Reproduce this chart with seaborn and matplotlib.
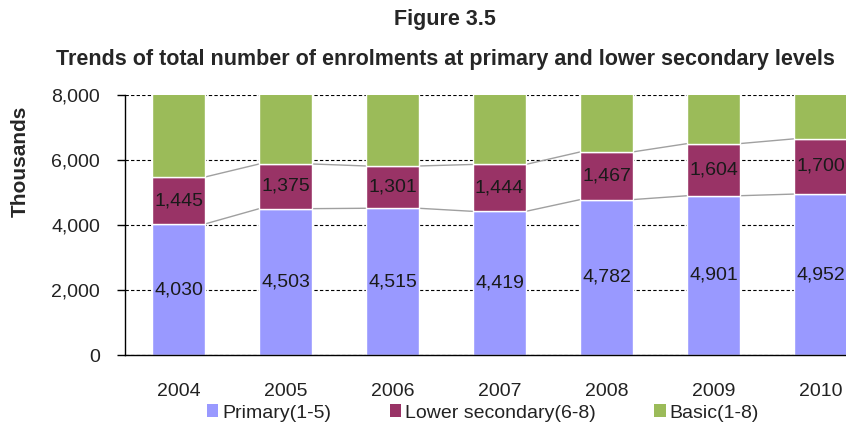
import numpy as np
import matplotlib
matplotlib.use("Agg")
import matplotlib.pyplot as plt
import seaborn as sns
from matplotlib.patches import Patch
from matplotlib.ticker import StrMethodFormatter

# -----------------------------
# Data (thousands)
# -----------------------------
years = ["2004", "2005", "2006", "2007", "2008", "2009", "2010"]
primary = [4030, 4503, 4515, 4419, 4782, 4901, 4952]
lower_secondary = [1445, 1375, 1301, 1444, 1467, 1604, 1700]
basic = [5475, 5878, 5816, 5863, 6249, 6505, 6652]

labels = ["Primary(1-5)", "Lower secondary(6-8)", "Basic(1-8)"]
colors = ["#9999FF", "#993366", "#9BBB59"]

# style
sns.set_style("white")
plt.rcParams["font.family"] = ["Liberation Sans", "DejaVu Sans"]

fig = plt.figure(figsize=(8.46, 4.28), dpi=100)
# the plot area runs past the right edge, as in the original
ax = fig.add_axes([125 / 846, 73 / 428, 749 / 846, 260 / 428])

w = 0.49
p = np.array(primary)
l = np.array(lower_secondary)
b = np.array(basic)

sns.barplot(x=years, y=primary, color=colors[0], width=w, errorbar=None,
            saturation=1, ax=ax, zorder=2)
sns.barplot(x=years, y=lower_secondary, bottom=p, color=colors[1], width=w,
            errorbar=None, saturation=1, ax=ax, zorder=2)
sns.barplot(x=years, y=basic, bottom=p + l, color=colors[2], width=w,
            errorbar=None, saturation=1, ax=ax, zorder=2)

# data labels
for cont in ax.containers[:2]:
    ax.bar_label(cont, labels=[f"{v.get_height():,.0f}" for v in cont],
                 label_type="center", fontsize=14, color="#1a1a1a")

# series lines between bars
for top in (p, p + l):
    for i in range(len(years) - 1):
        ax.plot([i + w / 2, i + 1 - w / 2], [top[i], top[i + 1]],
                color="#a0a0a0", lw=1, zorder=1)

ax.set_xlim(-0.5, 6.5)
ax.set_ylim(0, 8000)
ax.set_yticks([0, 2000, 4000, 6000, 8000])
ax.yaxis.set_major_formatter(StrMethodFormatter("{x:,.0f}"))
ax.yaxis.grid(True, linestyle=(0, (3, 2)), color="black", lw=0.8)
ax.set_axisbelow(True)

ax.set_xticks(range(len(years)), years)
ax.set_xticks(np.arange(-0.5, 7, 1), minor=True)
ax.tick_params(axis="x", which="major", length=0, pad=20, labelsize=14,
               labelcolor="#222222")
ax.tick_params(axis="x", which="minor", length=6, width=1, direction="out",
               color="black")
ax.tick_params(axis="y", length=6, width=1, direction="out", pad=12,
               labelsize=14, labelcolor="#222222", color="black", left=True)
ax.set_xlabel("")
ax.set_ylabel("")

for s in ["top", "right"]:
    ax.spines[s].set_visible(False)
for s in ["left", "bottom"]:
    ax.spines[s].set_color("black")
    ax.spines[s].set_linewidth(1)

fig.text(20 / 846, 1 - 161 / 428, "Thousands", rotation=90, ha="center",
         va="center", fontsize=15, fontweight="bold")

fig.text(445 / 846, 1 - 19 / 428, "Figure 3.5", ha="center", va="center",
         fontsize=15.5, fontweight="bold")
fig.text(445 / 846, 1 - 60 / 428,
         "Trends of total number of enrolments at primary and lower secondary levels",
         ha="center", va="center", fontsize=15.5, fontweight="bold")

handles = [Patch(facecolor=c, edgecolor="none") for c in colors]
fig.legend(handles, labels, loc="center", bbox_to_anchor=(483 / 846, 15 / 428),
           ncol=3, frameon=False, fontsize=14, handlelength=0.6,
           handleheight=0.6, handletextpad=0.2, columnspacing=3.0,
           labelcolor="#222222")

plt.savefig("out.png", dpi=100)
